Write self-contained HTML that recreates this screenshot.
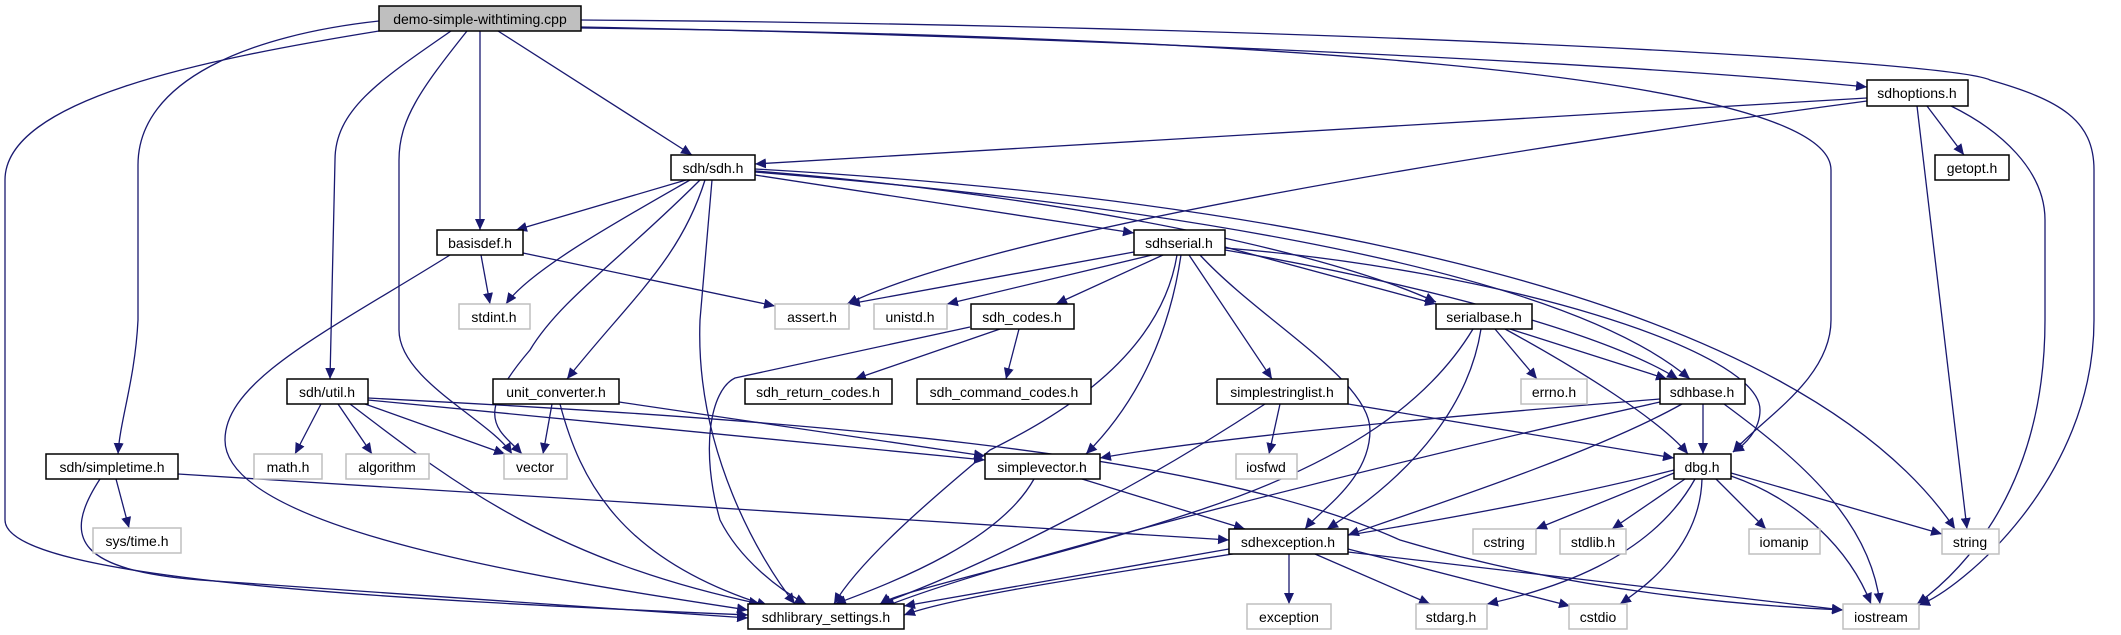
<!DOCTYPE html>
<html><head><meta charset="utf-8"><style>
html,body{margin:0;padding:0;background:#fff;}
svg{display:block;}
text{font-family:"Liberation Sans",sans-serif;font-size:14px;fill:#000;text-anchor:middle;}
.e{fill:none;stroke:#191970;stroke-width:1.3;marker-end:url(#a);}
.n{fill:#fff;stroke:#000;stroke-width:1.5;}
.g{fill:#fff;stroke:#bfbfbf;stroke-width:1.5;}
</style></head><body>
<svg width="2121" height="635" viewBox="0 0 2121 635" xmlns="http://www.w3.org/2000/svg">
<defs><marker id="a" markerUnits="userSpaceOnUse" markerWidth="12" markerHeight="10" refX="11" refY="5" orient="auto"><path d="M0,0 L11,5 L0,10 z" fill="#191970"/></marker></defs>
<g>
<!-- demo -->
<path class="e" d="M581,27 C1000,35 1600,60 1867,87"/>
<path class="e" d="M581,28 C1200,35 1831,70 1831,170 L1831,320 C1831,380 1760,420 1733,452"/>
<path class="e" d="M581,20 C1300,25 1950,60 1990,80 C2060,100 2094,120 2094,170 L2094,320 C2094,480 1960,590 1919,605"/>
<path class="e" d="M498,31 L692,155"/>
<path class="e" d="M480,31 L480,230"/>
<path class="e" d="M467,31 C420,90 399,120 399,160 L399,330 C399,380 490,420 512,454"/>
<path class="e" d="M451,31 C380,80 335,110 335,160 L330,379"/>
<path class="e" d="M379,21 C250,35 138,80 138,165 L138,320 C135,380 120,420 118,454"/>
<path class="e" d="M379,31 C200,60 5,100 5,180 L5,520 C5,580 400,600 748,615"/>
<!-- sdhoptions -->
<path class="e" d="M1867,98 L755,164"/>
<path class="e" d="M1867,101 C1500,150 1000,230 847,304"/>
<path class="e" d="M1927,106 L1964,155"/>
<path class="e" d="M1917,106 L1967,529"/>
<path class="e" d="M1951,106 C2000,130 2045,170 2045,220 L2045,320 C2045,500 1950,580 1917,604"/>
<!-- sdh.h -->
<path class="e" d="M686,180 L516,230"/>
<path class="e" d="M690,180 C620,220 530,270 506,304"/>
<path class="e" d="M700,180 C620,260 560,300 530,350 C470,420 500,430 522,454"/>
<path class="e" d="M705,180 C680,260 630,300 567,379"/>
<path class="e" d="M712,180 L700,320 C695,450 760,560 795,604"/>
<path class="e" d="M755,175 L1134,233"/>
<path class="e" d="M755,171 C1000,190 1300,240 1436,302"/>
<path class="e" d="M755,172 C1100,200 1550,260 1690,379"/>
<path class="e" d="M755,169 C1300,200 1800,300 1955,529"/>
<!-- basisdef -->
<path class="e" d="M481,255 L490,304"/>
<path class="e" d="M523,253 L775,306"/>
<path class="e" d="M450,255 C330,330 225,380 225,440 C225,530 550,580 748,610"/>
<!-- sdhserial -->
<path class="e" d="M1134,252 L849,304"/>
<path class="e" d="M1152,255 L947,304"/>
<path class="e" d="M1163,255 L1056,304"/>
<path class="e" d="M1189,255 L1272,379"/>
<path class="e" d="M1181,255 C1170,330 1140,400 1086,454"/>
<path class="e" d="M1177,255 C1160,360 1050,420 990,450 C930,500 860,560 834,604"/>
<path class="e" d="M1200,255 C1260,320 1370,380 1370,430 C1370,480 1320,510 1305,529"/>
<path class="e" d="M1225,247 L1436,304"/>
<path class="e" d="M1225,250 C1400,280 1600,330 1678,379"/>
<path class="e" d="M1225,248 C1500,270 1760,350 1760,410 C1760,430 1745,445 1733,452"/>
<!-- sdh_codes -->
<path class="e" d="M1000,329 L855,379"/>
<path class="e" d="M1019,329 L1006,379"/>
<path class="e" d="M970,327 L735,378 C710,390 700,450 720,520 C740,560 780,590 806,604"/>
<!-- serialbase -->
<path class="e" d="M1495,329 L1537,379"/>
<path class="e" d="M1510,329 L1667,379"/>
<path class="e" d="M1505,329 C1580,370 1660,420 1688,454"/>
<path class="e" d="M1481,329 C1470,400 1420,470 1327,529"/>
<path class="e" d="M1473,329 C1430,400 1350,460 1200,510 C1050,560 900,590 880,604"/>
<!-- sdhbase -->
<path class="e" d="M1703,404 L1703,454"/>
<path class="e" d="M1660,399 C1400,420 1200,440 1100,458"/>
<path class="e" d="M1682,404 C1600,450 1450,500 1348,535"/>
<path class="e" d="M1660,402 C1400,460 1000,560 884,607"/>
<path class="e" d="M1724,404 C1800,460 1870,520 1880,604"/>
<!-- simplestringlist -->
<path class="e" d="M1280,404 L1269,454"/>
<path class="e" d="M1348,404 L1674,458"/>
<path class="e" d="M1265,404 C1150,480 1000,560 880,604"/>
<!-- util -->
<path class="e" d="M321,404 L295,454"/>
<path class="e" d="M338,404 L372,454"/>
<path class="e" d="M365,404 L505,454"/>
<path class="e" d="M368,400 L985,460"/>
<path class="e" d="M368,398 C800,420 1200,450 1400,540 C1600,600 1800,608 1843,610"/>
<path class="e" d="M350,404 C450,480 550,560 760,604"/>
<!-- unit_converter -->
<path class="e" d="M552,404 L543,454"/>
<path class="e" d="M619,402 L985,456"/>
<path class="e" d="M560,404 C580,480 620,560 768,606"/>
<!-- simpletime -->
<path class="e" d="M116,479 L129,528"/>
<path class="e" d="M178,474 L1229,540"/>
<path class="e" d="M100,479 C60,540 80,570 200,580 L748,618"/>
<!-- simplevector -->
<path class="e" d="M1082,479 L1245,529"/>
<path class="e" d="M1034,479 C1000,540 900,580 835,604"/>
<!-- sdhexception -->
<path class="e" d="M1289,554 L1289,604"/>
<path class="e" d="M1315,554 L1430,604"/>
<path class="e" d="M1348,549 L1570,606"/>
<path class="e" d="M1348,552 L1843,610"/>
<path class="e" d="M1229,549 L904,606"/>
<!-- dbg -->
<path class="e" d="M1674,473 L1536,529"/>
<path class="e" d="M1685,479 L1612,529"/>
<path class="e" d="M1716,479 L1766,529"/>
<path class="e" d="M1731,473 L1942,534"/>
<path class="e" d="M1695,479 C1650,560 1550,590 1487,604"/>
<path class="e" d="M1702,479 C1700,550 1640,590 1620,604"/>
<path class="e" d="M1731,476 C1800,500 1850,550 1871,604"/>
<path class="e" d="M1674,470 C1400,540 1000,580 904,615"/>
</g>
<g>
<rect x="379" y="6" width="202" height="25" fill="#bfbfbf" stroke="#000" stroke-width="1.5"/><text x="480" y="24">demo-simple-withtiming.cpp</text>
<rect class="n" x="1867" y="80" width="101" height="26"/><text x="1917" y="98">sdhoptions.h</text>
<rect class="n" x="671" y="155" width="84" height="25"/><text x="713" y="173">sdh/sdh.h</text>
<rect class="n" x="1935" y="155" width="74" height="25"/><text x="1972" y="173">getopt.h</text>
<rect class="n" x="437" y="230" width="86" height="25"/><text x="480" y="248">basisdef.h</text>
<rect class="n" x="1134" y="230" width="91" height="25"/><text x="1179" y="248">sdhserial.h</text>
<rect class="g" x="459" y="304" width="71" height="25"/><text x="494" y="322">stdint.h</text>
<rect class="g" x="775" y="304" width="74" height="25"/><text x="812" y="322">assert.h</text>
<rect class="g" x="874" y="304" width="73" height="25"/><text x="910" y="322">unistd.h</text>
<rect class="n" x="971" y="304" width="103" height="25"/><text x="1022" y="322">sdh_codes.h</text>
<rect class="n" x="1436" y="304" width="96" height="25"/><text x="1484" y="322">serialbase.h</text>
<rect class="n" x="287" y="379" width="81" height="25"/><text x="327" y="397">sdh/util.h</text>
<rect class="n" x="493" y="379" width="126" height="25"/><text x="556" y="397">unit_converter.h</text>
<rect class="n" x="745" y="379" width="147" height="25"/><text x="818" y="397">sdh_return_codes.h</text>
<rect class="n" x="917" y="379" width="174" height="25"/><text x="1004" y="397">sdh_command_codes.h</text>
<rect class="n" x="1217" y="379" width="131" height="25"/><text x="1282" y="397">simplestringlist.h</text>
<rect class="g" x="1521" y="379" width="66" height="25"/><text x="1554" y="397">errno.h</text>
<rect class="n" x="1660" y="379" width="85" height="25"/><text x="1702" y="397">sdhbase.h</text>
<rect class="n" x="46" y="454" width="132" height="25"/><text x="112" y="472">sdh/simpletime.h</text>
<rect class="g" x="254" y="454" width="68" height="25"/><text x="288" y="472">math.h</text>
<rect class="g" x="346" y="454" width="83" height="25"/><text x="387" y="472">algorithm</text>
<rect class="g" x="504" y="454" width="63" height="25"/><text x="535" y="472">vector</text>
<rect class="n" x="985" y="454" width="115" height="25"/><text x="1042" y="472">simplevector.h</text>
<rect class="g" x="1236" y="454" width="61" height="25"/><text x="1266" y="472">iosfwd</text>
<rect class="n" x="1674" y="454" width="57" height="25"/><text x="1702" y="472">dbg.h</text>
<rect class="g" x="93" y="528" width="88" height="25"/><text x="137" y="546">sys/time.h</text>
<rect class="n" x="1229" y="529" width="119" height="25"/><text x="1288" y="547">sdhexception.h</text>
<rect class="g" x="1473" y="529" width="63" height="25"/><text x="1504" y="547">cstring</text>
<rect class="g" x="1560" y="529" width="66" height="25"/><text x="1593" y="547">stdlib.h</text>
<rect class="g" x="1749" y="529" width="71" height="25"/><text x="1784" y="547">iomanip</text>
<rect class="g" x="1942" y="529" width="57" height="25"/><text x="1970" y="547">string</text>
<rect class="n" x="748" y="604" width="156" height="25"/><text x="826" y="622">sdhlibrary_settings.h</text>
<rect class="g" x="1247" y="604" width="84" height="25"/><text x="1289" y="622">exception</text>
<rect class="g" x="1416" y="604" width="71" height="25"/><text x="1451" y="622">stdarg.h</text>
<rect class="g" x="1569" y="604" width="58" height="25"/><text x="1598" y="622">cstdio</text>
<rect class="g" x="1843" y="604" width="76" height="25"/><text x="1881" y="622">iostream</text>
</g>
</svg>
</body></html>
